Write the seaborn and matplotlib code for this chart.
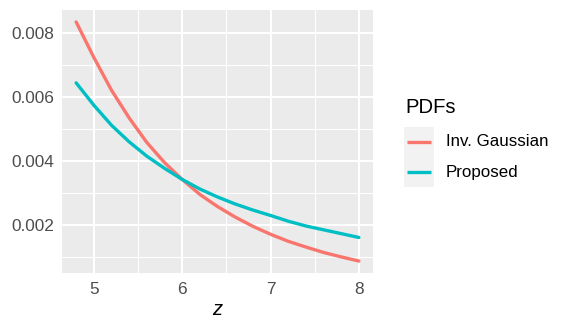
import numpy as np
import pandas as pd
import matplotlib
matplotlib.use("Agg")
import matplotlib.pyplot as plt
from matplotlib.lines import Line2D
from matplotlib.patches import Rectangle
from matplotlib.ticker import MultipleLocator
import seaborn as sns

# values
z = [4.8, 5.0, 5.2, 5.4, 5.6, 5.8, 6.0, 6.2, 6.4, 6.6, 6.8, 7.0, 7.2, 7.4, 7.6, 7.8, 8.0]
inv_gauss = [0.00836, 0.00725, 0.00622, 0.00535, 0.00458, 0.00395, 0.00342, 0.00295, 0.00257,
             0.00224, 0.00195, 0.00170, 0.00148, 0.00130, 0.00113, 0.00099, 0.00086]
proposed = [0.00645, 0.00575, 0.00512, 0.00460, 0.00415, 0.00377, 0.00342, 0.00312, 0.00287,
            0.00265, 0.00246, 0.00229, 0.00211, 0.00196, 0.00184, 0.00172, 0.00160]
labels = ["Inv. Gaussian", "Proposed"]
colors = ["#F8766D", "#00BFC4"]
x_ticks = [5, 6, 7, 8]
y_ticks = [0.002, 0.004, 0.006, 0.008]

df = pd.DataFrame({
    "z": z + z,
    "density": inv_gauss + proposed,
    "PDFs": [labels[0]] * len(z) + [labels[1]] * len(z),
})

sns.set_theme(style="darkgrid", rc={
    "axes.facecolor": "#EBEBEB",
    "grid.color": "white",
})
plt.rcParams["font.family"] = ["Liberation Sans", "DejaVu Sans"]

W, H = 565, 328
fig = plt.figure(figsize=(W / 100, H / 100), dpi=100)
fig.patch.set_facecolor("white")
ax = fig.add_axes([62 / W, 1 - 273 / H, (373 - 62) / W, (273 - 10) / H])

sns.lineplot(data=df, x="z", y="density", hue="PDFs", palette=colors,
             linewidth=2.4, ax=ax, legend=False)

# ggplot style expansion of 5%
xr = max(z) - min(z)
ax.set_xlim(min(z) - 0.05 * xr, max(z) + 0.05 * xr)
allv = inv_gauss + proposed
yr = max(allv) - min(allv)
ax.set_ylim(min(allv) - 0.05 * yr, max(allv) + 0.05 * yr)

ax.set_xticks(x_ticks)
ax.set_yticks(y_ticks)
ax.set_yticklabels([f"{v:.3f}" for v in y_ticks])
ax.xaxis.set_minor_locator(MultipleLocator(0.5))
ax.yaxis.set_minor_locator(MultipleLocator(0.001))
ax.grid(which="major", color="white", linewidth=1.5)
ax.grid(which="minor", color="white", linewidth=0.75)
ax.set_axisbelow(True)
for s in ax.spines.values():
    s.set_visible(False)

ax.tick_params(which="major", length=3.8, width=1.1, color="#333333",
               labelsize=12.4, labelcolor="#4D4D4D", pad=2.0)
ax.tick_params(axis="x", which="major", pad=3.0)
ax.tick_params(which="minor", length=0)

ax.set_xlabel("z", fontsize=14.5, fontstyle="italic", color="black", labelpad=2)
ax.set_ylabel("")

# legend drawn by hand to look like ggplot's guide
def px(x, y):
    return x / W, 1 - y / H

fig.text(*px(405, 107.5), "PDFs", fontsize=14.6, color="black", va="center", ha="left")
fig.add_artist(Rectangle(px(404, 187), 30 / W, 60 / H, transform=fig.transFigure,
                         facecolor="#F2F2F2", edgecolor="none"))
for i, (lab, col) in enumerate(zip(labels, colors)):
    yy = 142 + 30 * i
    fig.add_artist(Line2D([407 / W, 431 / W], [1 - yy / H, 1 - yy / H],
                          transform=fig.transFigure, color=col, linewidth=2.4,
                          solid_capstyle="butt"))
    fig.text(*px(445.5, yy), lab, fontsize=12.2, color="black", va="center", ha="left")

fig.savefig("out.png", dpi=100)
